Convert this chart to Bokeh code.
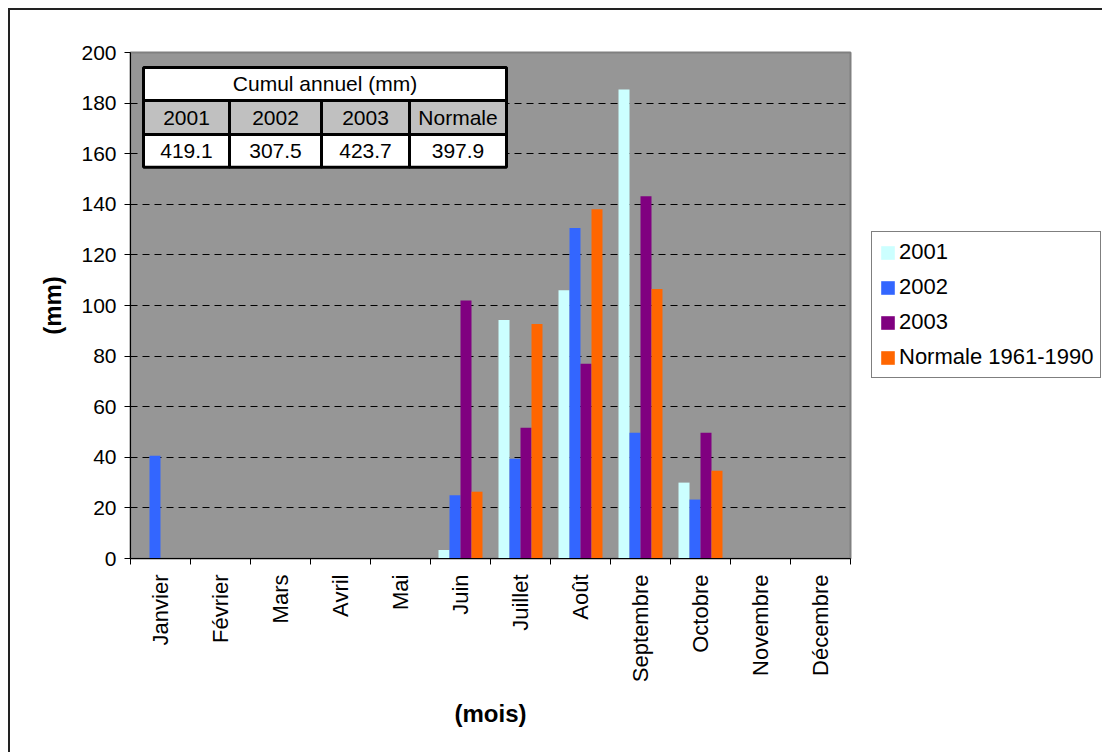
import math
from bokeh.plotting import figure
from bokeh.models import Range1d, FixedTicker, Legend, LegendItem, ColumnDataSource
from bokeh.core.properties import value
from bokeh.embed import file_html
from bokeh.resources import INLINE

# ---------------- data ----------------
months = ["Janvier", "Février", "Mars", "Avril", "Mai", "Juin", "Juillet",
          "Août", "Septembre", "Octobre", "Novembre", "Décembre"]
series_names = ["2001", "2002", "2003", "Normale 1961-1990"]
v2001 = [0, 0, 0, 0, 0, 3.4, 94.3, 106.0, 185.4, 30.0, 0, 0]
v2002 = [40.6, 0, 0, 0, 0, 25.0, 39.4, 130.6, 49.7, 23.3, 0, 0]
v2003 = [0, 0, 0, 0, 0, 102.0, 51.7, 77.0, 143.2, 49.7, 0, 0]
vnorm = [0, 0, 0, 0, 0, 26.4, 92.7, 138.0, 106.5, 34.7, 0, 0]
y_ticks = [0, 20, 40, 60, 80, 100, 120, 140, 160, 180, 200]

table_title = "Cumul annuel (mm)"
table_headers = ["2001", "2002", "2003", "Normale"]
table_totals = ["419.1", "307.5", "423.7", "397.9"]

# ---------------- styles ----------------
FONT = "Liberation Sans"
colors = ["#CCFFFF", "#3366FF", "#800080", "#FF6600"]
bar_w = 0.1833
offsets = [-1.5 * bar_w, -0.5 * bar_w, 0.5 * bar_w, 1.5 * bar_w]

p = figure(frame_width=720, frame_height=506, output_backend="svg", toolbar_location=None,
           x_range=Range1d(0, 12), y_range=Range1d(0, 200),
           min_border_left=120, min_border_right=252,
           min_border_top=42, min_border_bottom=196)
p.styles = {"margin-left": "10px", "margin-top": "10px",
            "box-shadow": "-2px -2px 0px 0px #222222"}
p.background_fill_color = "#969696"
p.border_fill_color = "white"
p.outline_line_color = "#808080"
p.outline_line_width = 2

# bars
items = []
series = [v2001, v2002, v2003, vnorm]
for name, vals, col, off in zip(series_names, series, colors, offsets):
    src = ColumnDataSource(dict(x=[i + 0.5 + off for i in range(len(months))], top=vals))
    r = p.vbar(x="x", top="top", bottom=0, width=bar_w, source=src,
               fill_color=col, line_color=None)
    items.append(LegendItem(label=name, renderers=[r]))

# grid
p.xgrid.visible = False
p.ygrid.ticker = FixedTicker(ticks=y_ticks[1:-1])
p.ygrid.grid_line_color = "black"
p.ygrid.grid_line_dash = "7 5"
p.ygrid.grid_line_width = 1

# x axis
xa = p.xaxis[0]
xa.ticker = FixedTicker(ticks=[i + 0.5 for i in range(12)], minor_ticks=list(range(13)))
xa.major_label_overrides = {i + 0.5: m for i, m in enumerate(months)}
xa.major_tick_line_color = None
xa.minor_tick_line_color = "black"
xa.minor_tick_out = 6
xa.minor_tick_in = 0
xa.axis_line_color = "black"
xa.major_label_orientation = math.pi / 2
xa.major_label_standoff = 10
xa.major_label_text_font = FONT
xa.major_label_text_font_size = "22px"
xa.major_label_text_color = "black"
xa.axis_label = "(mois)"
xa.axis_label_text_font = FONT
xa.axis_label_text_font_size = "24px"
xa.axis_label_text_font_style = "bold"
xa.axis_label_text_color = "black"
xa.axis_label_standoff = 15

# y axis
ya = p.yaxis[0]
ya.ticker = FixedTicker(ticks=y_ticks)
ya.major_tick_out = 6
ya.major_tick_in = 0
ya.minor_tick_line_color = None
ya.axis_line_color = "black"
ya.major_tick_line_color = "black"
ya.major_label_standoff = 8
ya.major_label_text_font = FONT
ya.major_label_text_font_size = "21px"
ya.major_label_text_color = "black"
ya.axis_label = "(mm)"
ya.axis_label_text_font = FONT
ya.axis_label_text_font_size = "24px"
ya.axis_label_text_font_style = "bold"
ya.axis_label_text_color = "black"
ya.axis_label_standoff = 12

# table inside the plot (geometry in data units)
tx = [0.217, 1.65, 3.183, 4.65, 6.267]
ty = [194.1, 181.0, 167.6, 154.6]
p.quad(left=[tx[0]], right=[tx[-1]], top=[ty[0]], bottom=[ty[1]],
       fill_color="white", line_color="black", line_width=3)
p.quad(left=tx[:-1], right=tx[1:], top=[ty[1]] * 4, bottom=[ty[2]] * 4,
       fill_color="#C0C0C0", line_color="black", line_width=3)
p.quad(left=tx[:-1], right=tx[1:], top=[ty[2]] * 4, bottom=[ty[3]] * 4,
       fill_color="white", line_color="black", line_width=3)
cx = [(a + b) / 2 for a, b in zip(tx[:-1], tx[1:])]
p.text(x=[(tx[0] + tx[-1]) / 2], y=[(ty[0] + ty[1]) / 2], text=[table_title],
       text_font=value(FONT), text_font_size="21px", text_align="center",
       text_baseline="middle", text_color="black")
p.text(x=cx, y=[(ty[1] + ty[2]) / 2] * 4, text=table_headers,
       text_font=value(FONT), text_font_size="21px", text_align="center",
       text_baseline="middle", text_color="black")
p.text(x=cx, y=[(ty[2] + ty[3]) / 2] * 4, text=table_totals,
       text_font=value(FONT), text_font_size="21px", text_align="center",
       text_baseline="middle", text_color="black")

# legend (right side panel)
legend = Legend(items=items, location=(21, 180))
legend.margin = 0
legend.padding = 7
legend.spacing = 9
legend.glyph_width = 17
legend.glyph_height = 17
legend.label_height = 24
legend.label_standoff = 3
legend.label_text_font = FONT
legend.label_text_font_size = "22px"
legend.label_text_color = "black"
legend.border_line_color = "black"
legend.border_line_width = 1
legend.background_fill_color = "white"
legend.background_fill_alpha = 1.0
p.add_layout(legend, "right")

open("out.html", "w").write(file_html(p, INLINE))
